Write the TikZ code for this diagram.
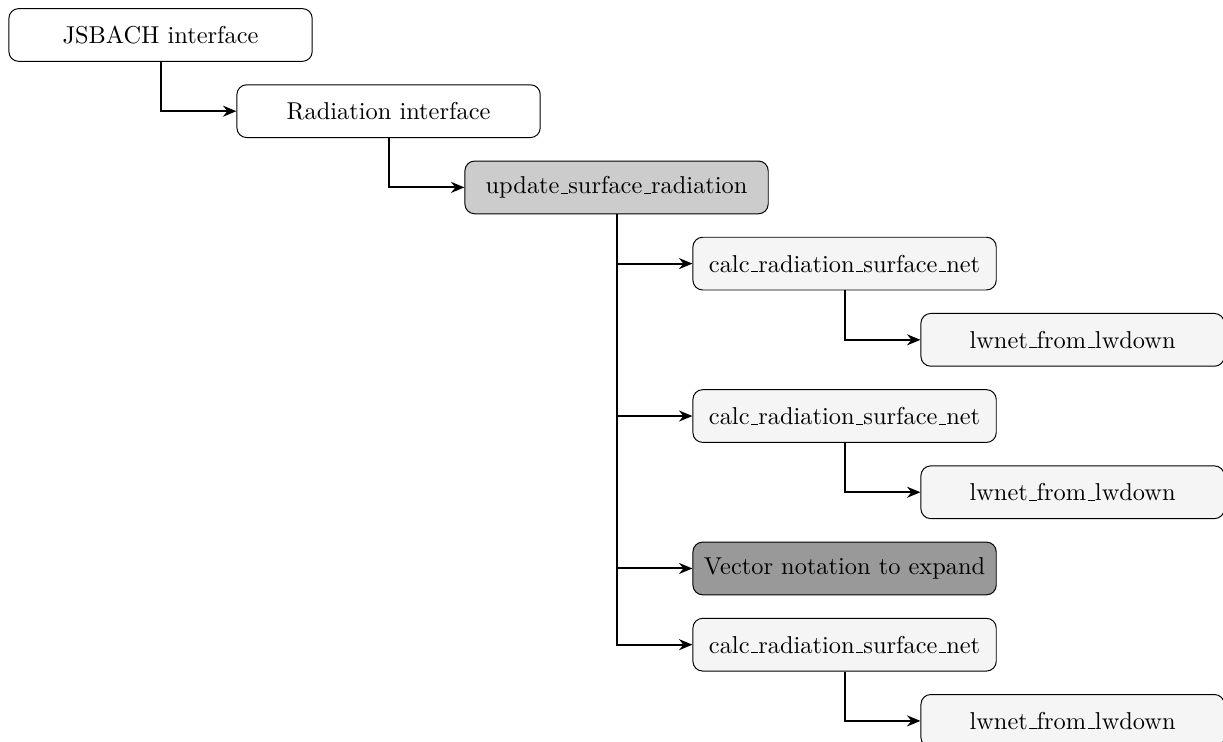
\documentclass[tikz,border=0pt]{standalone}
\usepackage{tikz}
\usetikzlibrary{arrows.meta, positioning, calc}
\definecolor{boxlight}{RGB}{245, 245, 245}
\definecolor{boxmid}{RGB}{204, 204, 204}
\definecolor{boxdark}{RGB}{153, 153, 153}
% short low rule, as the old \_
\newcommand{\ulow}{\leavevmode\kern.06em\vbox{\hrule width.3em}}

\begin{document}
\begin{tikzpicture}[
    box/.style={draw, rounded corners=4pt, minimum width=4.37cm, minimum height=0.76cm, align=center},
    call/.style={thick, -{Stealth[length=5.5pt, width=4.5pt]}}]
        \useasboundingbox (0,0) rectangle (17.62,-10.69);
        \foreach \nm/\lvl/\row/\fc/\lbl in {
            jsbach/0/0/white/{JSBACH interface},
            radif/1/1/white/{Radiation interface},
            update/2/2/boxmid/{update\ulow surface\ulow radiation},
            calcA/3/3/boxlight/{calc\ulow radiation\ulow surface\ulow net},
            lwA/4/4/boxlight/{lwnet\ulow from\ulow lwdown},
            calcB/3/5/boxlight/{calc\ulow radiation\ulow surface\ulow net},
            lwB/4/6/boxlight/{lwnet\ulow from\ulow lwdown},
            vector/3/7/boxdark/{Vector notation to expand},
            calcC/3/8/boxlight/{calc\ulow radiation\ulow surface\ulow net},
            lwC/4/9/boxlight/{lwnet\ulow from\ulow lwdown}}
        {
            \node[box, fill=\fc] (\nm) at ({2.313+3.285*\lvl}, {-0.504-1.098*\row}) {\lbl};
        }
        \foreach \a/\b in {jsbach/radif, radif/update, update/calcA, calcA/lwA,
            update/calcB, calcB/lwB, update/vector, update/calcC, calcC/lwC}
        {
            \draw[call] (\a.south) |- (\b.west);
        }
    \end{tikzpicture}
\end{document}
